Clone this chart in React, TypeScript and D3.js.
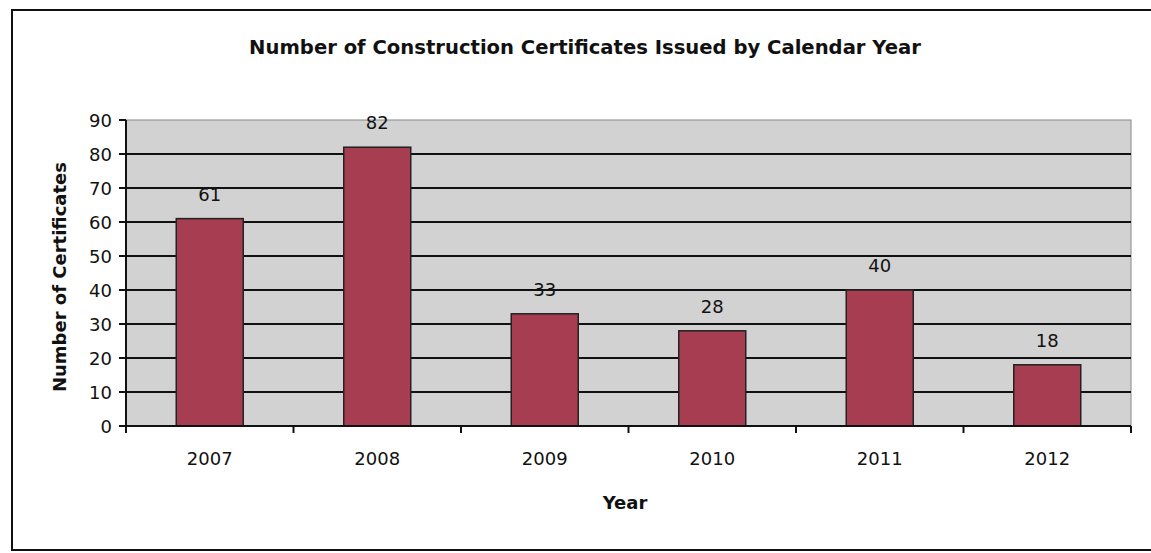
import React from "react";
import { scaleBand, scaleLinear } from "d3";

const years = ["2007", "2008", "2009", "2010", "2011", "2012"];
const certificates = [61, 82, 33, 28, 40, 18];
const yTicks = [0, 10, 20, 30, 40, 50, 60, 70, 80, 90];

const W = 1151;
const H = 553;
const margin = { top: 120, right: 20, bottom: 127, left: 126 };
const font = "'DejaVu Sans', Verdana, sans-serif";

const App = () => {
  const x0 = margin.left;
  const x1 = W - margin.right;
  const y0 = H - margin.bottom;
  const y1 = margin.top;

  const xScale = scaleBand().domain(years).range([x0, x1]).paddingInner(0.6).paddingOuter(0.3);
  const yScale = scaleLinear().domain([0, 90]).range([y0, y1]);
  const step = xScale.step();

  return (
    <svg width={W} height={H} style={{ position: "absolute", left: 0, top: 0 }}>
      <rect x={0} y={0} width={W} height={H} fill="#fff" />
      {/* outer frame */}
      <rect x={12} y={10} width={W + 10} height={540} fill="none" stroke="#111" strokeWidth={2} />

      {/* title */}
      <text x={585} y={54} textAnchor="middle" fontFamily={font} fontWeight="bold" fontSize={19.6} fill="#111">
        Number of Construction Certificates Issued by Calendar Year
      </text>

      {/* plot area */}
      <rect x={x0} y={y1} width={x1 - x0} height={y0 - y1} fill="#d2d2d2" stroke="#888" strokeWidth={1} />

      {/* gridlines */}
      {yTicks
        .filter((t) => t > 0 && t < 90)
        .map((t) => (
          <line key={t} x1={x0} x2={x1} y1={yScale(t)} y2={yScale(t)} stroke="#111" strokeWidth={2} />
        ))}

      {/* bars */}
      {years.map((yr, i) => (
        <rect
          key={yr}
          x={xScale(yr)}
          y={yScale(certificates[i])}
          width={xScale.bandwidth()}
          height={y0 - yScale(certificates[i])}
          fill="#a63d50"
          stroke="#222"
          strokeWidth={1.5}
        />
      ))}

      {/* data labels */}
      {years.map((yr, i) => (
        <text
          key={yr}
          x={(xScale(yr) as number) + xScale.bandwidth() / 2}
          y={yScale(certificates[i]) - 18}
          textAnchor="middle"
          fontFamily={font}
          fontSize={18}
          fill="#111"
        >
          {certificates[i]}
        </text>
      ))}

      {/* y axis */}
      <line x1={x0} x2={x0} y1={y1} y2={y0} stroke="#111" strokeWidth={2} />
      {yTicks.map((t) => (
        <g key={t}>
          <line x1={x0 - 7} x2={x0} y1={yScale(t)} y2={yScale(t)} stroke="#111" strokeWidth={2} />
          <text x={x0 - 14} y={yScale(t) + 7} textAnchor="end" fontFamily={font} fontSize={18} fill="#111">
            {t}
          </text>
        </g>
      ))}

      {/* x axis */}
      <line x1={x0} x2={x1} y1={y0} y2={y0} stroke="#111" strokeWidth={2} />
      {[...years.keys(), years.length].map((i) => (
        <line key={i} x1={x0 + i * step} x2={x0 + i * step} y1={y0} y2={y0 + 7} stroke="#111" strokeWidth={2} />
      ))}
      {years.map((yr) => (
        <text
          key={yr}
          x={(xScale(yr) as number) + xScale.bandwidth() / 2}
          y={y0 + 39}
          textAnchor="middle"
          fontFamily={font}
          fontSize={18}
          fill="#111"
        >
          {yr}
        </text>
      ))}

      {/* axis titles */}
      <text
        transform={`translate(66,${(y0 + y1) / 2 + 4}) rotate(-90)`}
        textAnchor="middle"
        fontFamily={font}
        fontWeight="bold"
        fontSize={18}
        fill="#111"
      >
        Number of Certificates
      </text>
      <text x={625} y={509} textAnchor="middle" fontFamily={font} fontWeight="bold" fontSize={18} fill="#111">
        Year
      </text>
    </svg>
  );
};

export default App;
